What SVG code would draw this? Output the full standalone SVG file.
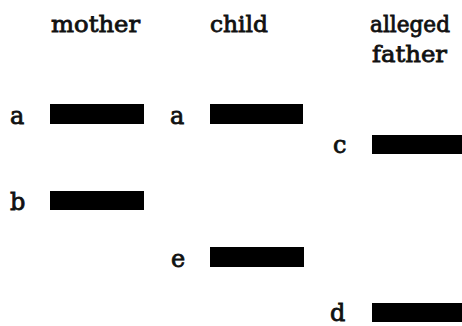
<svg xmlns="http://www.w3.org/2000/svg" width="462" height="326" viewBox="0 0 462 326">
<style>
text{font-family:"DejaVu Serif","Liberation Serif",serif;font-size:24px;fill:#111;stroke:#111;stroke-width:0.8}
.h{font-size:22px}
.bar{fill:#000}
</style>
<rect width="462" height="326" fill="#fff"/>
<g id="headers">
<text class="h" x="51" y="32" textLength="89" lengthAdjust="spacingAndGlyphs">mother</text>
<text class="h" x="210" y="32" textLength="58" lengthAdjust="spacingAndGlyphs">child</text>
<text class="h" x="370" y="32" textLength="80" lengthAdjust="spacingAndGlyphs">alleged</text>
<text class="h" x="372" y="62" textLength="75" lengthAdjust="spacingAndGlyphs">father</text>
</g>
<g id="mother-a"><text x="10" y="124">a</text><rect class="bar" x="50" y="104" width="94" height="20"/></g>
<g id="mother-b"><text x="10" y="210">b</text><rect class="bar" x="50" y="191" width="94" height="19"/></g>
<g id="child-a"><text x="170" y="124">a</text><rect class="bar" x="210" y="104" width="93" height="20"/></g>
<g id="child-e"><text x="171" y="267">e</text><rect class="bar" x="210" y="247" width="94" height="20"/></g>
<g id="father-c"><text x="333" y="153">c</text><rect class="bar" x="372" y="135" width="90" height="19"/></g>
<g id="father-d"><text x="330" y="321">d</text><rect class="bar" x="372" y="303" width="90" height="19"/></g>
</svg>
